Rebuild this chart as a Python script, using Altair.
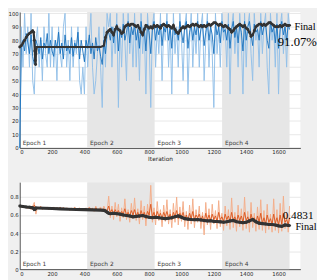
import altair as alt
import pandas as pd

# ---------------- data ----------------
iterations = list(range(0, 1661, 10)) + [1668]

acc_raw = [
    0, 90, 60, 100, 70, 90, 60, 100, 50, 40,
    80, 90, 60, 80, 50, 90, 70, 60, 100, 60,
    90, 60, 80, 50, 90, 70, 60, 90, 100, 60,
    80, 50, 90, 60, 80, 70, 90, 50, 40, 60,
    40, 90, 60, 80, 100, 60, 40, 50, 70, 90,
    60, 30, 90, 60, 100, 90, 100, 60, 90, 70,
    100, 30, 90, 60, 100, 80, 50, 100, 70, 90,
    60, 100, 60, 90, 50, 100, 70, 90, 40, 100,
    80, 30, 90, 100, 60, 90, 70, 100, 50, 90,
    80, 100, 60, 90, 40, 100, 70, 90, 60, 100,
    80, 50, 90, 100, 40, 80, 100, 60, 90, 70,
    100, 60, 90, 100, 50, 80, 100, 60, 90, 70,
    30, 100, 70, 90, 60, 100, 80, 90, 60, 100,
    40, 90, 100, 70, 90, 60, 100, 80, 40, 100,
    60, 90, 100, 70, 50, 100, 80, 90, 60, 100,
    70, 90, 100, 60, 40, 100, 80, 90, 60, 100,
    40, 90, 100, 70, 90, 60, 100, 90,
]

acc_smooth = [
    0, 75, 80, 72, 85, 78, 70, 84, 68, 62,
    80, 76, 70, 82, 66, 78, 74, 85, 70, 80,
    72, 68, 80, 74, 86, 70, 78, 66, 84, 72,
    76, 70, 82, 68, 78, 74, 86, 66, 80, 72,
    64, 80, 74, 84, 70, 78, 66, 82, 72, 76,
    68, 62, 80, 70, 84, 86, 80, 90, 78, 88,
    92, 72, 88, 82, 92, 80, 86, 94, 78, 90,
    84, 92, 80, 88, 74, 94, 84, 90, 72, 92,
    86, 70, 88, 94, 80, 90, 84, 92, 76, 90,
    86, 94, 80, 90, 74, 92, 84, 88, 80, 94,
    86, 78, 90, 94, 74, 86, 92, 80, 90, 84,
    94, 80, 88, 92, 76, 86, 94, 80, 90, 84,
    70, 92, 84, 90, 78, 94, 86, 88, 80, 92,
    74, 88, 94, 82, 90, 78, 92, 86, 72, 94,
    80, 90, 94, 84, 76, 92, 86, 88, 80, 94,
    84, 90, 92, 80, 74, 94, 86, 90, 78, 92,
    74, 88, 94, 84, 90, 80, 92, 88,
]

acc_final_iter = [0, 10, 20, 30, 40, 50, 60, 70, 80, 86, 90, 93, 96, 98, 100, 105,
                  200, 300, 400, 500, 520] + list(range(530, 1661, 10)) + [1668]
acc_final_val = [
    75, 76, 78, 80, 82, 84, 85, 86, 87, 86, 80, 72, 65, 62, 70, 75,
    75, 75, 75, 75, 76,
    82, 86, 87, 88, 86, 84, 88, 90, 88, 87,
    85, 86, 90, 91, 92, 91, 92, 92, 91, 90,
    91, 89, 86, 84, 88, 91, 90, 89, 90, 89,
    91, 90, 91, 90, 89, 91, 92, 91, 90, 91,
    90, 89, 91, 88, 86, 85, 87, 89, 90, 89,
    90, 91, 90, 91, 92, 91, 92, 91, 90, 91,
    90, 91, 90, 91, 92, 91, 92, 93, 93, 92,
    91, 92, 91, 90, 91, 90, 89, 88, 86, 87,
    89, 90, 91, 92, 91, 90, 91, 89, 88, 86,
    83, 84, 87, 90, 91, 92, 92, 91, 92, 91,
    92, 93, 93, 92, 91, 90, 90, 90, 91, 90,
    91, 92, 91, 91, 91.07,
]

loss_raw = [
    0.70, 0.69, 0.71, 0.68, 0.70, 0.67, 0.69, 0.66, 0.70, 0.74,
    0.61, 0.69, 0.67, 0.70, 0.66, 0.68, 0.67, 0.69, 0.66, 0.68,
    0.67, 0.69, 0.66, 0.68, 0.67, 0.69, 0.66, 0.68, 0.66, 0.68,
    0.67, 0.65, 0.68, 0.66, 0.69, 0.65, 0.67, 0.68, 0.65, 0.67,
    0.66, 0.68, 0.65, 0.69, 0.66, 0.68, 0.64, 0.70, 0.65, 0.67,
    0.69, 0.64, 0.70, 0.66, 0.63, 0.81, 0.57, 0.70, 0.55, 0.74,
    0.58, 0.72, 0.53, 0.68, 0.57, 0.78, 0.55, 0.66, 0.52, 0.73,
    0.56, 0.79, 0.54, 0.67, 0.50, 0.76, 0.55, 0.70, 0.48, 0.72,
    0.56, 0.93, 0.52, 0.68, 0.49, 0.75, 0.54, 0.66, 0.47, 0.71,
    0.53, 0.77, 0.50, 0.66, 0.46, 0.73, 0.52, 0.80, 0.49, 0.69,
    0.53, 0.75, 0.47, 0.64, 0.44, 0.71, 0.50, 0.78, 0.46, 0.66,
    0.52, 0.70, 0.45, 0.63, 0.38, 0.74, 0.49, 0.67, 0.44, 0.72,
    0.50, 0.65, 0.45, 0.76, 0.47, 0.62, 0.43, 0.70, 0.48, 0.66,
    0.44, 0.79, 0.46, 0.63, 0.42, 0.71, 0.47, 0.67, 0.43, 0.80,
    0.45, 0.64, 0.41, 0.74, 0.46, 0.62, 0.42, 0.69, 0.44, 0.77,
    0.43, 0.65, 0.40, 0.72, 0.44, 0.61, 0.41, 0.78, 0.43, 0.66,
    0.40, 0.73, 0.42, 0.81, 0.45, 0.63, 0.41, 0.70,
]

loss_smooth = [
    0.70, 0.69, 0.70, 0.69, 0.69, 0.68, 0.69, 0.68, 0.69, 0.71,
    0.66, 0.68, 0.68, 0.69, 0.67, 0.68, 0.68, 0.68, 0.67, 0.68,
    0.68, 0.68, 0.67, 0.68, 0.67, 0.68, 0.67, 0.68, 0.67, 0.67,
    0.67, 0.66, 0.67, 0.66, 0.68, 0.66, 0.67, 0.67, 0.66, 0.67,
    0.66, 0.67, 0.66, 0.68, 0.66, 0.67, 0.65, 0.68, 0.66, 0.66,
    0.67, 0.65, 0.67, 0.65, 0.64, 0.70, 0.63, 0.66, 0.61, 0.66,
    0.62, 0.65, 0.60, 0.64, 0.61, 0.67, 0.60, 0.63, 0.59, 0.65,
    0.60, 0.66, 0.59, 0.63, 0.57, 0.65, 0.59, 0.63, 0.56, 0.64,
    0.60, 0.72, 0.58, 0.63, 0.56, 0.64, 0.58, 0.62, 0.56, 0.63,
    0.58, 0.64, 0.57, 0.61, 0.55, 0.63, 0.58, 0.65, 0.56, 0.62,
    0.58, 0.63, 0.55, 0.60, 0.54, 0.62, 0.56, 0.64, 0.55, 0.60,
    0.57, 0.61, 0.54, 0.59, 0.52, 0.62, 0.55, 0.60, 0.54, 0.61,
    0.55, 0.59, 0.53, 0.63, 0.55, 0.58, 0.53, 0.61, 0.55, 0.59,
    0.53, 0.63, 0.54, 0.58, 0.52, 0.60, 0.54, 0.59, 0.52, 0.63,
    0.54, 0.58, 0.51, 0.61, 0.54, 0.57, 0.51, 0.59, 0.52, 0.62,
    0.51, 0.57, 0.50, 0.60, 0.52, 0.56, 0.50, 0.61, 0.51, 0.57,
    0.49, 0.60, 0.50, 0.62, 0.52, 0.55, 0.49, 0.57,
]

loss_final_iter = [0, 20, 40, 60, 80, 86, 90, 95, 100, 110, 150, 200, 250, 300, 350, 400,
                   450, 500, 520, 530, 540, 550, 560, 580, 600, 620, 640, 660, 680, 700,
                   720, 740, 760, 780, 800, 820, 840, 860, 880, 900, 920, 940, 960, 980,
                   1000, 1020, 1040, 1060, 1080, 1100, 1120, 1140, 1160, 1180, 1200, 1220,
                   1240, 1260, 1280, 1300, 1320, 1340, 1360, 1380, 1400, 1420, 1440, 1460,
                   1480, 1500, 1520, 1540, 1560, 1580, 1600, 1620, 1640, 1660, 1668]
loss_final_val = [0.700, 0.695, 0.690, 0.686, 0.680, 0.672, 0.662, 0.664, 0.678, 0.678,
                  0.675, 0.672, 0.668, 0.665, 0.662, 0.660, 0.657, 0.654, 0.652, 0.645,
                  0.632, 0.620, 0.615, 0.620, 0.615, 0.610, 0.600, 0.595, 0.590, 0.580,
                  0.585, 0.590, 0.595, 0.585, 0.575, 0.570, 0.575, 0.570, 0.565, 0.560,
                  0.565, 0.570, 0.580, 0.590, 0.575, 0.560, 0.555, 0.550, 0.548, 0.550,
                  0.545, 0.540, 0.535, 0.537, 0.530, 0.528, 0.525, 0.520, 0.525, 0.535,
                  0.540, 0.525, 0.520, 0.515, 0.520, 0.535, 0.550, 0.525, 0.510, 0.505,
                  0.500, 0.495, 0.495, 0.490, 0.480, 0.475, 0.490, 0.485, 0.4831]

epoch_names = ["Epoch 1", "Epoch 2", "Epoch 3", "Epoch 4"]
epoch_start = [0, 417, 834, 1251]
epoch_end = [417, 834, 1251, 1668]
epoch_shaded = [False, True, False, True]

x_ticks = [0, 200, 400, 600, 800, 1000, 1200, 1400, 1600]
acc_ticks = [0, 10, 20, 30, 40, 50, 60, 70, 80, 90, 100]
loss_ticks = [0, 0.2, 0.4, 0.6, 0.8]

acc_final_labels = ["Final", "91.07%"]
loss_final_labels = ["0.4831", "Final"]

# ---------------- tables ----------------
raw_acc_df = pd.DataFrame({"iter": iterations, "v": acc_raw})
smooth_acc_df = pd.DataFrame({"iter": iterations, "v": acc_smooth})
final_acc_df = pd.DataFrame({"iter": acc_final_iter, "v": acc_final_val})
raw_loss_df = pd.DataFrame({"iter": iterations, "v": loss_raw})
smooth_loss_df = pd.DataFrame({"iter": iterations, "v": loss_smooth})
final_loss_df = pd.DataFrame({"iter": loss_final_iter, "v": loss_final_val})
epoch_df = pd.DataFrame({"name": epoch_names, "start": epoch_start,
                         "end": epoch_end, "shaded": epoch_shaded})
end_acc_df = pd.DataFrame({"iter": [acc_final_iter[-1]], "v": [acc_final_val[-1]],
                           "a": [acc_final_labels[0]], "b": [acc_final_labels[1]]})
end_loss_df = pd.DataFrame({"iter": [loss_final_iter[-1]], "v": [loss_final_val[-1]],
                            "a": [loss_final_labels[0]], "b": [loss_final_labels[1]]})

# ---------------- style ----------------
W = 287
H1 = 139
H2 = 89
XMAX = 1735
SANS = "DejaVu Sans"
SERIF = "Liberation Serif"
DARK = "#333333"

xscale = alt.Scale(domain=[0, XMAX], nice=False, zero=False)


def panel(raw_df, smooth_df, final_df, end_df, ydomain, yticks, yfmt, H,
          raw_col, smooth_col, xtitle, lwidth, text_a, text_b):
    xaxis = alt.Axis(values=x_ticks, title=xtitle, grid=False, format="d")
    yaxis = alt.Axis(values=yticks, title=None, grid=True, format=yfmt)
    yscale = alt.Scale(domain=ydomain, nice=False, zero=False)

    def X(f):
        return alt.X(f"{f}:Q", scale=xscale, axis=xaxis)

    def Y(f):
        return alt.Y(f"{f}:Q", scale=yscale, axis=yaxis)

    shade = alt.Chart(epoch_df).transform_filter("datum.shaded").mark_rect(
        color="#e6e6e6").encode(x=X("start"), x2="end",
                                y=alt.value(0), y2=alt.value(H))
    raw = alt.Chart(raw_df).mark_line(color=raw_col, strokeWidth=1).encode(
        x=X("iter"), y=Y("v"))
    smooth = alt.Chart(smooth_df).mark_line(color=smooth_col, strokeWidth=0.9).encode(
        x=X("iter"), y=Y("v"))
    fline = alt.Chart(final_df).mark_line(color=DARK, strokeWidth=lwidth).encode(
        x=X("iter"), y=Y("v"))
    fpts = alt.Chart(final_df).transform_filter(
        "datum.iter <= 100 || datum.iter >= 530").mark_circle(
        color=DARK, size=9, opacity=1).encode(x=X("iter"), y=Y("v"))
    elabel = alt.Chart(epoch_df).mark_text(
        align="left", baseline="bottom", dx=3, fontSize=6, font=SANS,
        color="#404040").encode(x=X("start"), y=alt.value(H - 2), text="name:N")
    ta = alt.Chart(end_df).mark_text(
        font=SERIF, color="black", **text_a).encode(x=X("iter"), y=Y("v"), text="a:N")
    tb = alt.Chart(end_df).mark_text(
        font=SERIF, color="black", **text_b).encode(x=X("iter"), y=Y("v"), text="b:N")
    return alt.layer(shade, raw, smooth, fline, fpts, elabel, ta, tb).properties(
        width=W, height=H)


top = panel(raw_acc_df, smooth_acc_df, final_acc_df, end_acc_df, [0, 101], acc_ticks, "d",
            H1, "#93c1e8", "#1670bd", "Iteration", 2.2,
            dict(align="left", baseline="middle", dx=5, dy=2, fontSize=10.5),
            dict(align="right", baseline="middle", dx=28, dy=17, fontSize=13))
bottom = panel(raw_loss_df, smooth_loss_df, final_loss_df, end_loss_df, [0, 0.965],
               loss_ticks, "~g", H2, "#f4ae8a", "#d9531a", None, 3.2,
               dict(align="left", baseline="middle", dx=-7, dy=-10, fontSize=11.5),
               dict(align="left", baseline="middle", dx=6, dy=2, fontSize=10.5))

chart = alt.vconcat(top, bottom, spacing=35, bounds="flush").properties(
    background="#f0f0f0", padding=0
).configure_view(fill="white", strokeWidth=0).configure_axis(
    labelFont=SANS, labelFontSize=5.5, labelColor="#262626",
    domainColor="#262626", domainWidth=0.8, tickSize=0,
    titleFont=SANS, titleFontSize=6, titleFontWeight="normal", titleColor="#262626",
    gridColor="#e2e2e2", gridWidth=0.8,
).configure_axisX(labelPadding=2, titlePadding=0).configure_axisY(labelPadding=1.5)

chart.save("out.html", embed_options={"renderer": "svg", "actions": False})
